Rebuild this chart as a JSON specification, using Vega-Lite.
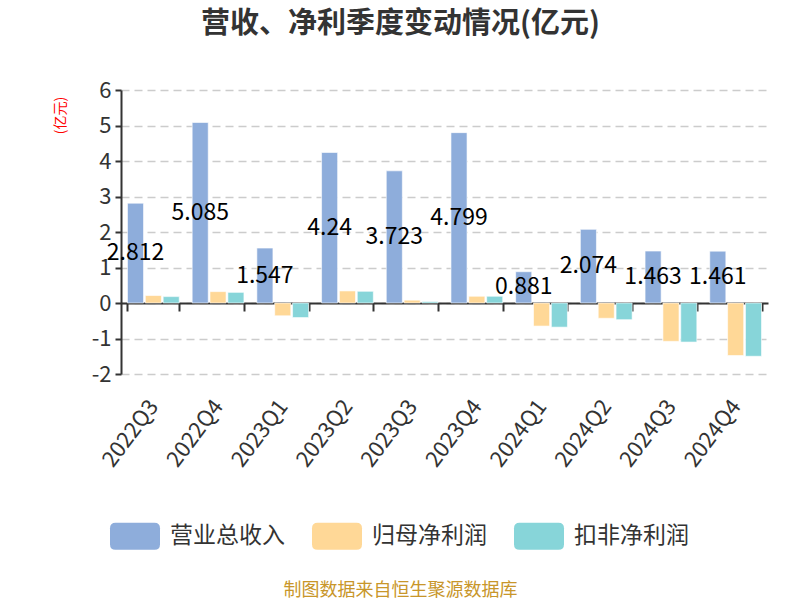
{
  "$schema": "https://vega.github.io/schema/vega-lite/v6.json",
  "autosize": "none",
  "width": 647,
  "height": 284,
  "padding": {"left": 121, "top": 90, "right": 32, "bottom": 226},
  "background": "#ffffff",
  "config": {
    "view": {"stroke": null},
    "font": "Noto Sans CJK SC"
  },
  "title": {
    "text": "营收、净利季度变动情况(亿元)",
    "fontSize": 29,
    "fontWeight": "bold",
    "color": "#333333",
    "anchor": "middle",
    "frame": "group",
    "dx": -44,
    "offset": 40
  },
  "data": {
    "values": [
      {"q": "2022Q3", "s": "营业总收入", "v": 2.812},
      {"q": "2022Q3", "s": "归母净利润", "v": 0.21},
      {"q": "2022Q3", "s": "扣非净利润", "v": 0.18},
      {"q": "2022Q4", "s": "营业总收入", "v": 5.085},
      {"q": "2022Q4", "s": "归母净利润", "v": 0.32},
      {"q": "2022Q4", "s": "扣非净利润", "v": 0.30},
      {"q": "2023Q1", "s": "营业总收入", "v": 1.547},
      {"q": "2023Q1", "s": "归母净利润", "v": -0.36},
      {"q": "2023Q1", "s": "扣非净利润", "v": -0.41},
      {"q": "2023Q2", "s": "营业总收入", "v": 4.24},
      {"q": "2023Q2", "s": "归母净利润", "v": 0.34},
      {"q": "2023Q2", "s": "扣非净利润", "v": 0.33},
      {"q": "2023Q3", "s": "营业总收入", "v": 3.723},
      {"q": "2023Q3", "s": "归母净利润", "v": 0.08},
      {"q": "2023Q3", "s": "扣非净利润", "v": 0.04},
      {"q": "2023Q4", "s": "营业总收入", "v": 4.799},
      {"q": "2023Q4", "s": "归母净利润", "v": 0.19},
      {"q": "2023Q4", "s": "扣非净利润", "v": 0.19},
      {"q": "2024Q1", "s": "营业总收入", "v": 0.881},
      {"q": "2024Q1", "s": "归母净利润", "v": -0.65},
      {"q": "2024Q1", "s": "扣非净利润", "v": -0.68},
      {"q": "2024Q2", "s": "营业总收入", "v": 2.074},
      {"q": "2024Q2", "s": "归母净利润", "v": -0.43},
      {"q": "2024Q2", "s": "扣非净利润", "v": -0.47},
      {"q": "2024Q3", "s": "营业总收入", "v": 1.463},
      {"q": "2024Q3", "s": "归母净利润", "v": -1.08},
      {"q": "2024Q3", "s": "扣非净利润", "v": -1.10},
      {"q": "2024Q4", "s": "营业总收入", "v": 1.461},
      {"q": "2024Q4", "s": "归母净利润", "v": -1.48},
      {"q": "2024Q4", "s": "扣非净利润", "v": -1.50}
    ]
  },
  "encoding": {
    "x": {
      "field": "q",
      "type": "nominal",
      "sort": null,
      "scale": {"paddingInner": 0.2, "paddingOuter": 0.1},
      "axis": {
        "title": "制图数据来自恒生聚源数据库",
        "titleColor": "#c8962a",
        "titleFontSize": 18,
        "titleFontWeight": "normal",
        "titleX": 279,
        "titleY": 287,
        "titleAlign": "center",
        "titleBaseline": "middle",
        "offset": -71,
        "domain": true,
        "domainColor": "#333333",
        "domainWidth": 2,
        "ticks": true,
        "tickBand": "extent",
        "tickColor": "#333333",
        "tickWidth": 2,
        "tickSize": 8,
        "labelAngle": -53,
        "labelAlign": "right",
        "labelBaseline": "middle",
        "labelFontSize": 22,
        "labelColor": "#333333",
        "labelPadding": 91,
        "grid": false
      }
    },
    "y": {
      "type": "quantitative",
      "scale": {"domain": [-2, 6], "nice": false, "zero": false},
      "axis": {
        "values": [-2, -1, 0, 1, 2, 3, 4, 5, 6],
        "labelExpr": "replace(datum.label, '−', '-')",
        "title": "(亿元)",
        "titleColor": "#ff0000",
        "titleFontSize": 14,
        "titleFontWeight": "normal",
        "titleX": -61,
        "titleY": 25,
        "titleAngle": -90,
        "titleAlign": "center",
        "titleBaseline": "middle",
        "labelFontSize": 22,
        "labelColor": "#333333",
        "labelPadding": 4,
        "domainColor": "#333333",
        "domainWidth": 2,
        "tickColor": "#333333",
        "tickWidth": 2,
        "tickSize": 6,
        "grid": true,
        "gridColor": "#cccccc",
        "gridWidth": 1.5,
        "gridDash": [8, 5]
      }
    }
  },
  "layer": [
    {
      "mark": {"type": "bar", "stroke": "#ffffff", "strokeWidth": 0.6},
      "encoding": {
        "y": {"field": "v", "type": "quantitative"},
        "xOffset": {
          "field": "s",
          "type": "nominal",
          "scale": {"domain": ["营业总收入", "归母净利润", "扣非净利润"], "paddingInner": 0.1, "paddingOuter": 0}
        },
        "color": {
          "field": "s",
          "type": "nominal",
          "scale": {
            "domain": ["营业总收入", "归母净利润", "扣非净利润"],
            "range": ["#8eaddb", "#ffd897", "#87d5d9"]
          },
          "legend": {
            "title": null,
            "orient": "none",
            "direction": "horizontal",
            "legendX": -11,
            "legendY": 421,
            "symbolType": "M-0.78,-0.54L0.78,-0.54Q1,-0.54 1,-0.32L1,0.32Q1,0.54 0.78,0.54L-0.78,0.54Q-1,0.54 -1,0.32L-1,-0.32Q-1,-0.54 -0.78,-0.54Z",
            "symbolSize": 2500,
            "symbolStrokeWidth": 0,
            "symbolOpacity": 1,
            "labelFontSize": 23,
            "labelColor": "#333333",
            "labelOffset": 10,
            "columnPadding": 27
          }
        }
      }
    },
    {
      "transform": [
        {"filter": "datum.s === '营业总收入'"},
        {"calculate": "datum.v / 2", "as": "mid"}
      ],
      "mark": {"type": "text", "fontSize": 23, "color": "#000000", "baseline": "middle", "align": "center"},
      "encoding": {
        "y": {"field": "mid", "type": "quantitative"},
        "xOffset": {"field": "s", "type": "nominal"},
        "text": {"field": "v", "type": "quantitative", "format": ".4~g"}
      }
    }
  ]
}
